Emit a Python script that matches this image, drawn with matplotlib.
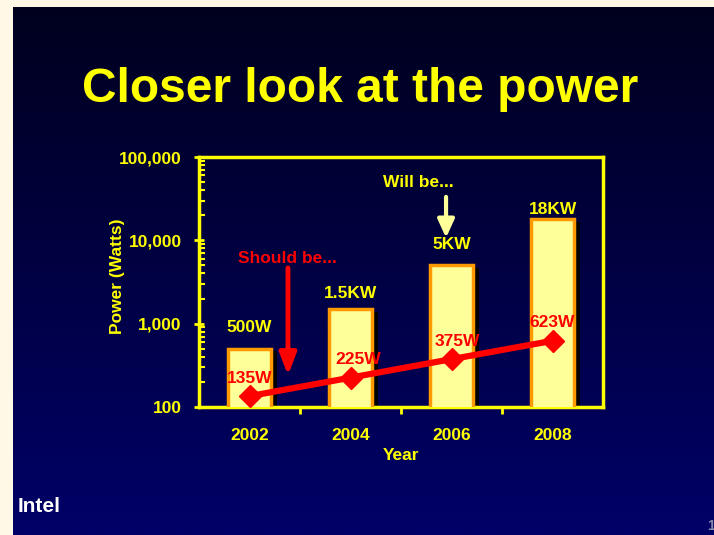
"""Slide chart: closer look at the power (log-scale bars with projected line)."""

import matplotlib.pyplot as plt
import numpy as np
from matplotlib.patches import Rectangle

years = ["2002", "2004", "2006", "2008"]
will_be = [500, 1500, 5000, 18000]
will_be_labels = ["500W", "1.5KW", "5KW", "18KW"]
should_be = [135, 225, 375, 623]
should_be_labels = ["135W", "225W", "375W", "623W"]
yticks = [100, 1000, 10000, 100000]
ytick_labels = ["100", "1,000", "10,000", "100,000"]

YEL, CREAM, ORANGE, RED = "#FFFF00", "#FFFF99", "#FF9900", "#FF0000"
plt.rcParams["font.family"] = ["Liberation Sans", "DejaVu Sans"]
plt.rcParams["font.weight"] = "bold"
FS = 12.5

fig = plt.figure(figsize=(7.14, 5.35), dpi=100)
fig.patch.set_facecolor("#FFF8E6")

# slide background gradient (dark navy at top to blue at bottom)
bg = fig.add_axes([13 / 714, 0, 1 - 13 / 714, 1 - 7 / 535])
grad = np.linspace(0, 1, 256)[:, None]
top, bot = np.array([0, 0, 0x1E]) / 255, np.array([0, 0, 0x68]) / 255
cols = top + (bot - top) * grad[..., None]
bg.imshow(cols, aspect="auto", extent=[0, 1, 0, 1])
bg.set_axis_off()

fig.text(0.504, 0.833, "Closer look at the power", color=YEL, fontsize=34.5,
         ha="center", va="center", fontweight="bold")

ax = fig.add_axes([199 / 714, 1 - 407 / 535, 404 / 714, 250 / 535])
ax.set_facecolor("none")
ax.set_yscale("log")
ax.set_ylim(100, 100000)
ax.set_xlim(-0.5, 3.5)
x = np.arange(len(years))
w = 0.43

# drop shadows, then bars
for xi, v in zip(x, will_be):
    ax.add_patch(Rectangle((xi - w / 2 + 0.055, 100), w, v * 0.93 - 100,
                           facecolor="black", edgecolor="none", zorder=2))
ax.bar(x, will_be, width=w, bottom=0, color=CREAM, edgecolor=ORANGE,
       linewidth=2.5, zorder=3)
lift = [21, 15, 21, 10]
for xi, v, lab, dy in zip(x, will_be, will_be_labels, lift):
    ax.annotate(lab, (xi, v), xytext=(0, dy * 0.72), textcoords="offset points",
                color=YEL, fontsize=FS, ha="center", va="center",
                fontweight="bold", zorder=5)

ax.plot(x, should_be, color=RED, lw=4.5, marker="D", markersize=11, zorder=4)
shift = [0, 8, 6, 0]
for xi, v, lab, dx in zip(x, should_be, should_be_labels, shift):
    ax.annotate(lab, (xi, v), xytext=(dx * 0.72, 13), textcoords="offset points",
                color=RED, fontsize=FS, ha="center", va="center",
                fontweight="bold", zorder=5)

# callout arrows
ax.annotate("", xy=(0.381, 240), xytext=(0.381, 4660),
            arrowprops=dict(arrowstyle="-|>,head_width=0.5,head_length=1.3",
                            color=RED, lw=3.5, shrinkA=0, shrinkB=0), zorder=6)
ax.text(0.38, 6000, "Should be...", color=RED, fontsize=FS, ha="center",
        va="center", fontweight="bold")
ax.annotate("", xy=(1.946, 10700), xytext=(1.946, 33200),
            arrowprops=dict(arrowstyle="-|>,head_width=0.5,head_length=1.1",
                            color=CREAM, lw=3, shrinkA=0, shrinkB=0), zorder=6)
ax.text(1.668, 48900, "Will be...", color=YEL, fontsize=FS, ha="center",
        va="center", fontweight="bold")

for s in ax.spines.values():
    s.set_color(YEL)
    s.set_linewidth(2.5)
ax.set_xticks(x)
ax.set_xticklabels(years)
ax.set_xticks([0.5, 1.5, 2.5], minor=True)
ax.tick_params(axis="x", which="major", length=0, pad=15, colors=YEL,
               labelsize=FS)
ax.tick_params(axis="x", which="minor", length=5, width=2, color=YEL,
               direction="out")
ax.set_yticks(yticks)
ax.set_yticklabels(ytick_labels)
ax.tick_params(axis="y", which="major", length=7, width=2, color=YEL,
               direction="inout", labelcolor=YEL, labelsize=FS, pad=9)
ax.tick_params(axis="y", which="minor", length=4, width=1.5, color=YEL,
               direction="in")
for t in ax.get_xticklabels() + ax.get_yticklabels():
    t.set_fontweight("bold")
ax.set_xlabel("Year", color=YEL, fontsize=FS, fontweight="bold", labelpad=4)
ax.set_ylabel("Power (Watts)", color=YEL, fontsize=FS, fontweight="bold")
ax.yaxis.set_label_coords(-0.183, 0.524)

fig.text(0.025, 0.035, "Intel", color="white", fontsize=15, fontweight="bold",
         ha="left", va="bottom")
fig.text(0.99, 0.003, "1", color="#8888AA", fontsize=10, ha="left",
         va="bottom")

fig.savefig("out.png", dpi=100, facecolor=fig.get_facecolor())
